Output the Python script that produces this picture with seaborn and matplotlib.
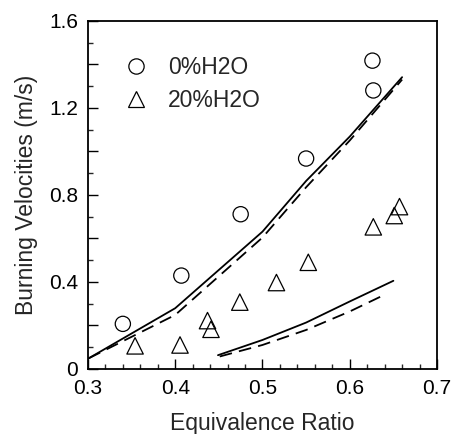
import matplotlib
matplotlib.use("Agg")
import matplotlib.pyplot as plt
import seaborn as sns
import pandas as pd
from matplotlib.lines import Line2D
from matplotlib.ticker import MultipleLocator, FixedLocator

# Experimental data
phi_0 = [0.340, 0.407, 0.475, 0.550, 0.626, 0.627]
su_0 = [0.207, 0.429, 0.711, 0.967, 1.417, 1.280]
phi_20 = [0.354, 0.4055, 0.437, 0.441, 0.474, 0.516, 0.5525, 0.627, 0.651, 0.657]
su_20 = [0.106, 0.110, 0.222, 0.182, 0.307, 0.397, 0.490, 0.653, 0.705, 0.746]

# Computed curves
phi_c0 = [0.301, 0.40, 0.50, 0.55, 0.60, 0.66]
su_c0_solid = [0.049, 0.279, 0.631, 0.864, 1.068, 1.341]
su_c0_dash = [0.049, 0.248, 0.604, 0.835, 1.050, 1.330]
phi_c20_solid = [0.449, 0.50, 0.55, 0.60, 0.650]
su_c20_solid = [0.063, 0.133, 0.213, 0.310, 0.405]
phi_c20_dash = [0.451, 0.50, 0.55, 0.60, 0.642]
su_c20_dash = [0.057, 0.110, 0.179, 0.264, 0.345]

legend_labels = ["0%H2O", "20%H2O"]

sns.set_theme(style="ticks")
plt.rcParams['font.family'] = ['Liberation Sans', 'DejaVu Sans']

fig = plt.figure(figsize=(4.51, 4.34), dpi=100)
ax = fig.add_axes([0.195, 0.150, 0.774, 0.802])

lw = 1.3
dash = (7, 4)
sns.lineplot(x=phi_c0, y=su_c0_solid, ax=ax, color="black", lw=lw, sort=False)
sns.lineplot(x=phi_c0, y=su_c0_dash, ax=ax, color="black", lw=lw, sort=False).lines[-1].set_dashes(dash)
sns.lineplot(x=phi_c20_solid, y=su_c20_solid, ax=ax, color="black", lw=lw, sort=False)
sns.lineplot(x=phi_c20_dash, y=su_c20_dash, ax=ax, color="black", lw=lw, sort=False).lines[-1].set_dashes(dash)

sns.scatterplot(x=phi_0, y=su_0, ax=ax, marker="o", s=120, facecolor="none",
                edgecolor="black", linewidth=0.9)
sns.scatterplot(x=phi_20, y=su_20, ax=ax, marker="^", s=140, facecolor="none",
                edgecolor="black", linewidth=0.9)

ax.set_xlim(0.3, 0.7)
ax.set_ylim(0, 1.6)
ax.xaxis.set_major_locator(FixedLocator([0.3, 0.4, 0.5, 0.6, 0.7]))
ax.xaxis.set_minor_locator(MultipleLocator(0.02))
ax.yaxis.set_major_locator(FixedLocator([0, 0.2, 0.4, 0.6, 0.8, 1.0, 1.2, 1.4, 1.6]))
ax.yaxis.set_minor_locator(MultipleLocator(0.1))
ax.set_xticklabels(["0.3", "0.4", "0.5", "0.6", "0.7"])
ax.set_yticklabels(["0", "", "0.4", "", "0.8", "", "1.2", "", "1.6"])
ax.tick_params(which="major", direction="in", length=7, width=1.0, labelsize=15,
               pad=7, colors="black", top=False, right=False)
ax.tick_params(which="minor", direction="in", length=3.5, width=1.0, top=False, right=False)
for sp in ax.spines.values():
    sp.set_linewidth(1.3)
    sp.set_color("black")
    sp.set_visible(True)

ax.set_xlabel("Equivalence Ratio", fontsize=16.5, labelpad=10)
ax.set_ylabel("Burning Velocities (m/s)", fontsize=16.5, labelpad=8)

handles = [
    Line2D([], [], marker="o", ls="none", mfc="none", mec="black", ms=11, mew=0.9),
    Line2D([], [], marker="^", ls="none", mfc="none", mec="black", ms=11.5, mew=0.9),
]
ax.legend(handles, legend_labels, loc="upper left", bbox_to_anchor=(0.072, 0.925),
          frameon=False, fontsize=16.5, handletextpad=0.8, labelspacing=0.45,
          borderaxespad=0, handlelength=1.2)

fig.savefig("out.png", dpi=100)
